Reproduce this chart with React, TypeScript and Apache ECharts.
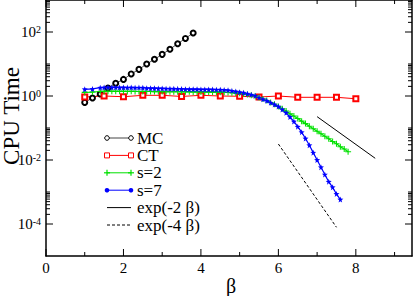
import React, { useEffect, useRef } from "react";
import * as echarts from "echarts";

// ---------- data ----------
const mcBeta = [1.0, 1.2, 1.4, 1.6, 1.8, 2.0, 2.2, 2.4, 2.6, 2.8, 3.0, 3.2, 3.4, 3.6, 3.8];
const mcTime = [0.63, 0.87, 1.15, 1.78, 2.5, 3.3, 4.9, 6.8, 10, 14, 20, 29, 43, 63, 93];

const ctBeta = [1.0, 1.5, 2.0, 2.5, 3.0, 3.5, 4.0, 4.5, 5.0, 5.5, 6.0, 6.5, 7.0, 7.5, 8.0];
const ctTime = [0.93, 1.0, 0.95, 1.05, 1.05, 0.97, 1.05, 1.0, 0.98, 0.93, 1.0, 0.91, 0.91, 0.91, 0.82];

const s2Beta = [
  1.0, 1.2, 1.4, 1.5, 1.6, 1.7, 1.8, 1.9, 2.0, 2.1, 2.2, 2.3, 2.4, 2.5, 2.6, 2.7, 2.8, 2.9,
  3.0, 3.1, 3.2, 3.3, 3.4, 3.5, 3.6, 3.7, 3.8, 3.9, 4.0, 4.1, 4.2, 4.3, 4.4, 4.5, 4.6, 4.7,
  4.8, 4.9, 5.0, 5.1, 5.2, 5.3, 5.4, 5.5, 5.6, 5.7, 5.8, 5.9, 6.0, 6.1, 6.2, 6.3, 6.4, 6.5,
  6.6, 6.7, 6.8, 6.9, 7.0, 7.1, 7.2, 7.3, 7.4, 7.5, 7.6, 7.7, 7.8,
];
const s2Time = [
  1.30, 1.33, 1.38, 1.40, 1.41, 1.40, 1.41, 1.40, 1.40, 1.39, 1.40, 1.39, 1.38, 1.39, 1.38, 1.38, 1.37, 1.38,
  1.37, 1.37, 1.36, 1.36, 1.36, 1.35, 1.35, 1.35, 1.34, 1.34, 1.34, 1.33, 1.33, 1.33, 1.32, 1.32, 1.31, 1.29,
  1.27, 1.24, 1.21, 1.17, 1.12, 1.06, 0.99, 0.90, 0.81, 0.72, 0.63, 0.55, 0.47, 0.40, 0.34, 0.28, 0.236, 0.197,
  0.164, 0.137, 0.114, 0.095, 0.079, 0.066, 0.055, 0.046, 0.038, 0.032, 0.026, 0.022, 0.018,
];

const s7Beta = [
  1.0, 1.2, 1.4, 1.5, 1.6, 1.7, 1.8, 1.9, 2.0, 2.1, 2.2, 2.3, 2.4, 2.5, 2.6, 2.7, 2.8, 2.9,
  3.0, 3.1, 3.2, 3.3, 3.4, 3.5, 3.6, 3.7, 3.8, 3.9, 4.0, 4.1, 4.2, 4.3, 4.4, 4.5, 4.6, 4.7,
  4.8, 4.9, 5.0, 5.1, 5.2, 5.3, 5.4, 5.5, 5.6, 5.7, 5.8, 5.9, 6.0, 6.1, 6.2, 6.3, 6.4, 6.5,
  6.6, 6.7, 6.8, 6.9, 7.0, 7.1, 7.2, 7.3, 7.4, 7.5, 7.6,
];
const s7Time = [
  1.62, 1.66, 1.82, 1.84, 1.86, 1.85, 1.86, 1.84, 1.85, 1.83, 1.84, 1.82, 1.83, 1.81, 1.76, 1.75, 1.74, 1.72,
  1.72, 1.70, 1.69, 1.68, 1.67, 1.66, 1.64, 1.63, 1.62, 1.62, 1.61, 1.60, 1.60, 1.59, 1.58, 1.57, 1.55, 1.51,
  1.45, 1.38, 1.32, 1.26, 1.17, 1.10, 1.02, 0.89, 0.79, 0.71, 0.62, 0.54, 0.47, 0.38, 0.30, 0.22, 0.16, 0.11,
  0.074, 0.047, 0.029, 0.017, 0.010, 0.0059, 0.0035, 0.0021, 0.0014, 0.00087, 0.00058,
];

const exp2Beta = [7.0, 8.5];
const exp2Val = [0.226, 0.0113];
const exp4Beta = [6.0, 7.5];
const exp4Val = [0.0316, 7.9e-5];

const legendLabels = ["MC", "CT", "s=2", "s=7", "exp(-2 \u03b2)", "exp(-4 \u03b2)"];
const xLabelValues = [0, 2, 4, 6, 8];
const xMinorValues = [1, 3, 5, 7, 9];
const yMajorExps = [-4, -2, 0, 2];
const yMinorMantissas = [2, 3, 4, 5, 6, 7, 8, 9, 10];
const xTitle = "\u03b2";
const yTitle = "CPU Time";

// ---------- styling ----------
const SERIF = '"Liberation Serif", "DejaVu Serif", serif';
const MAJOR = 7;
const MINOR = 4;
const PLUS = "path://M3.3,0H4.7V3.3H8V4.7H4.7V8H3.3V4.7H0V3.3H3.3Z";
const STAR = "path://M5,0L6.2,3.4L10,3.8L7,6.2L8,10L5,7.8L2,10L3,6.2L0,3.8L3.8,3.4Z";

const zip = (a: number[], b: number[]) => a.map((v, i) => [v, b[i]]);

export default function App() {
  const ref = useRef<HTMLDivElement>(null);

  useEffect(() => {
    if (!ref.current) return;
    const chart = echarts.init(ref.current, undefined, { renderer: "svg" });

    const yTickData: number[][] = [];
    yMajorExps.forEach((e) => {
      yTickData.push([0, Math.pow(10, e), MAJOR]);
      yMinorMantissas.forEach((m) => yTickData.push([0, m * Math.pow(10, e), MINOR]));
    });
    const xTickData: number[][] = [
      ...xLabelValues.map((v) => [v, 1, MAJOR]),
      ...xMinorValues.map((v) => [v, 1, MINOR]),
    ];

    const axisLine = { show: true, onZero: false, lineStyle: { color: "#000", width: 1.5 } };

    const legendGraphics: any[] = [];
    const colors = ["#444", "#ff0000", "#00e000", "#0000ff", "#000", "#000"];
    legendLabels.forEach((label, i) => {
      const y = 138 + i * 17.4;
      const x1 = 107;
      const x2 = 131;
      legendGraphics.push({
        type: "line",
        shape: { x1, y1: y, x2, y2: y },
        style: { stroke: colors[i], lineWidth: 1, lineDash: i === 5 ? [3, 2] : null },
      });
      [x1, x2].forEach((sx) => {
        if (i === 0) {
          legendGraphics.push({ type: "circle", shape: { cx: sx, cy: y, r: 2.3 }, style: { fill: "#fff", stroke: "#000", lineWidth: 1 } });
        } else if (i === 1) {
          legendGraphics.push({ type: "rect", shape: { x: sx - 2.5, y: y - 2.5, width: 5, height: 5 }, style: { fill: "#fff", stroke: "#ff0000", lineWidth: 1 } });
        } else if (i === 2) {
          legendGraphics.push({ type: "line", shape: { x1: sx - 3, y1: y, x2: sx + 3, y2: y }, style: { stroke: "#00e000", lineWidth: 1.2 } });
          legendGraphics.push({ type: "line", shape: { x1: sx, y1: y - 3, x2: sx, y2: y + 3 }, style: { stroke: "#00e000", lineWidth: 1.2 } });
        } else if (i === 3) {
          legendGraphics.push({ type: "circle", shape: { cx: sx, cy: y, r: 2.3 }, style: { fill: "#0000ff" } });
        }
      });
      legendGraphics.push({
        type: "text",
        x: 137,
        y,
        style: {
          text: label,
          font: `17px ${SERIF}`,
          lineHeight: 15,
          fill: "#000",
          textAlign: "left",
          textVerticalAlign: "middle",
          align: "left",
          verticalAlign: "middle",
        },
      });
    });

    const option: any = {
      animation: false,
      backgroundColor: "#fff",
      grid: { left: 46, top: 0, width: 367, height: 256 },
      xAxis: [
        {
          type: "value",
          min: 0,
          max: 9.45,
          interval: 2,
          axisLine,
          axisTick: { show: false },
          splitLine: { show: false },
          axisLabel: {
            color: "#000",
            fontFamily: SERIF,
            fontSize: 15,
            margin: 4,
            formatter: (v: number) => (xLabelValues.indexOf(v) >= 0 ? String(v) : ""),
          },
        },
        {
          type: "value",
          position: "top",
          min: 0,
          max: 9.45,
          interval: 2,
          axisLine,
          axisTick: { show: false },
          splitLine: { show: false },
          axisLabel: { show: false },
        },
      ],
      yAxis: [
        {
          type: "log",
          logBase: 10,
          min: 1e-5,
          max: 1e3,
          axisLine,
          axisTick: { show: false },
          splitLine: { show: false },
          axisLabel: {
            margin: 5,
            formatter: (v: number) => {
              const e = Math.round(Math.log10(v));
              return yMajorExps.indexOf(e) >= 0 ? `{b|10}{s|${e}}` : "";
            },
            rich: {
              b: { fontFamily: SERIF, fontSize: 15, color: "#000", lineHeight: 16 },
              s: { fontFamily: SERIF, fontSize: 10, color: "#000", verticalAlign: "top", lineHeight: 10 },
            },
          },
        },
        {
          type: "log",
          logBase: 10,
          min: 1e-5,
          max: 1e3,
          position: "right",
          axisLine,
          axisTick: { show: false },
          splitLine: { show: false },
          axisLabel: { show: false },
        },
      ],
      graphic: [
        {
          type: "text",
          x: 11,
          y: 116,
          rotation: Math.PI / 2,
          style: {
            text: yTitle,
            font: `23px ${SERIF}`,
            fill: "#000",
            textAlign: "center",
            textVerticalAlign: "middle",
            align: "center",
            verticalAlign: "middle",
          },
        },
        {
          type: "text",
          x: 231,
          y: 286,
          style: {
            text: xTitle,
            font: `20px ${SERIF}`,
            fill: "#000",
            textAlign: "center",
            textVerticalAlign: "middle",
            align: "center",
            verticalAlign: "middle",
          },
        },
        ...legendGraphics,
      ],
      series: [
        {
          type: "custom",
          silent: true,
          clip: false,
          data: yTickData,
          encode: { x: 0, y: 1 },
          renderItem: (params: any, api: any) => {
            const cs = params.coordSys;
            const y = api.coord([0, api.value(1)])[1];
            const len = api.value(2);
            return {
              type: "group",
              children: [
                { type: "line", shape: { x1: cs.x, y1: y, x2: cs.x + len, y2: y }, style: { stroke: "#000", lineWidth: 1 } },
                { type: "line", shape: { x1: cs.x + cs.width - len, y1: y, x2: cs.x + cs.width, y2: y }, style: { stroke: "#000", lineWidth: 1 } },
              ],
            };
          },
        },
        {
          type: "custom",
          silent: true,
          clip: false,
          data: xTickData,
          encode: { x: 0, y: 1 },
          renderItem: (params: any, api: any) => {
            const cs = params.coordSys;
            const x = api.coord([api.value(0), 1])[0];
            const len = api.value(2);
            return {
              type: "group",
              children: [
                { type: "line", shape: { x1: x, y1: cs.y + cs.height, x2: x, y2: cs.y + cs.height - len }, style: { stroke: "#000", lineWidth: 1 } },
                { type: "line", shape: { x1: x, y1: cs.y, x2: x, y2: cs.y + len }, style: { stroke: "#000", lineWidth: 1 } },
              ],
            };
          },
        },
        {
          name: "MC",
          type: "line",
          data: zip(mcBeta, mcTime),
          symbol: "emptyCircle",
          symbolSize: 5,
          lineStyle: { color: "#555", width: 1 },
          itemStyle: { color: "#000", borderColor: "#222", borderWidth: 0.9 },
        },
        {
          name: "CT",
          type: "line",
          data: zip(ctBeta, ctTime),
          symbol: "emptyRect",
          symbolSize: 5,
          lineStyle: { color: "#ff0000", width: 1 },
          itemStyle: { color: "#ff0000", borderColor: "#ff0000", borderWidth: 1 },
        },
        {
          name: "s=2",
          type: "line",
          data: zip(s2Beta, s2Time),
          symbol: PLUS,
          symbolSize: 6,
          lineStyle: { color: "#00e000", width: 1.2 },
          itemStyle: { color: "#00e000" },
        },
        {
          name: "s=7",
          type: "line",
          data: zip(s7Beta, s7Time),
          symbol: STAR,
          symbolSize: 6,
          lineStyle: { color: "#0000ff", width: 1.2 },
          itemStyle: { color: "#0000ff" },
        },
        {
          name: "exp(-2 \u03b2)",
          type: "line",
          data: zip(exp2Beta, exp2Val),
          symbol: "none",
          lineStyle: { color: "#000", width: 1 },
        },
        {
          name: "exp(-4 \u03b2)",
          type: "line",
          data: zip(exp4Beta, exp4Val),
          symbol: "none",
          lineStyle: { color: "#000", width: 1, type: [3, 2] },
        },
      ],
    };

    chart.setOption(option);
    return () => chart.dispose();
  }, []);

  return (
    <div
      ref={ref}
      style={{ position: "absolute", left: 0, top: 0, width: 415, height: 296, background: "#fff" }}
    />
  );
}
